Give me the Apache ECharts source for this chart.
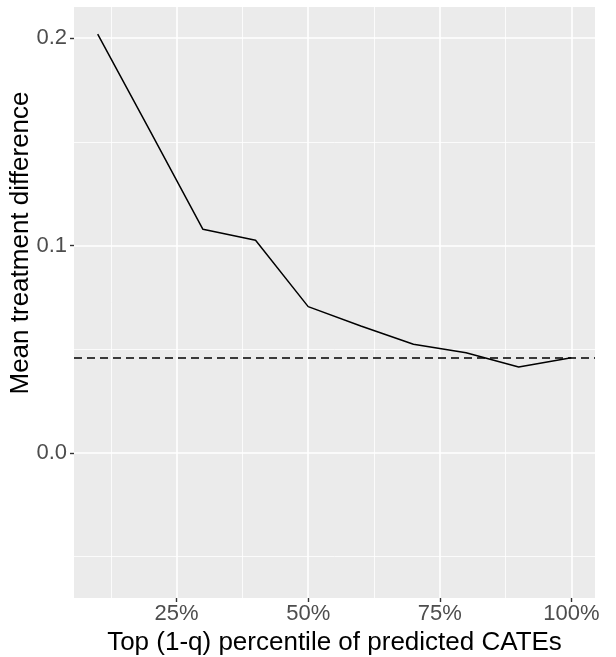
<!DOCTYPE html>
<html>
<head>
<meta charset="utf-8">
<script src="https://cdn.jsdelivr.net/npm/echarts@6/dist/echarts.min.js"></script>
<style>
  html, body { margin: 0; padding: 0; background: #fff; }
  #chart { width: 616px; height: 657px; }
</style>
</head>
<body>
<div id="chart"></div>
<script>
  // Data
  const pct = [10, 20, 30, 40, 50, 60, 70, 80, 90, 100];
  const meanDiff = [0.2019, 0.155, 0.1078, 0.1025, 0.0705, 0.0612, 0.0524, 0.0483, 0.0414, 0.0459];
  const overallDiff = [0.0459];   // dashed reference line

  const xTicks = [25, 50, 75, 100];
  const yTicks = [0, 0.1, 0.2];
  const xMinor = [12.5, 37.5, 62.5, 87.5];
  const yMinor = [-0.05, 0.05, 0.15];

  const FONT = "Liberation Sans, Arial, Helvetica, sans-serif";
  const TICK_COL = "#4D4D4D";

  function gridLines() {
    const major = { color: "#fff", width: 1.6, type: "solid" };
    const minor = { color: "#fff", width: 0.8, type: "solid" };
    const out = [];
    xMinor.forEach(v => out.push({ xAxis: v, lineStyle: minor }));
    yMinor.forEach(v => out.push({ yAxis: v, lineStyle: minor }));
    xTicks.forEach(v => out.push({ xAxis: v, lineStyle: major }));
    yTicks.forEach(v => out.push({ yAxis: v, lineStyle: major }));
    return out;
  }

  const chart = echarts.init(document.getElementById("chart"), null, { renderer: "canvas" });

  chart.setOption({
    animation: false,
    backgroundColor: "#fff",
    grid: {
      left: 74, right: 21, top: 7, bottom: 59,
      containLabel: false,
      outerBoundsMode: "none",
      show: true, backgroundColor: "#EBEBEB", borderWidth: 0
    },
    // y title sits a bit above the panel centre in the reference, so place it by hand
    graphic: [{
      type: "text",
      x: 21,
      y: 243,
      rotation: Math.PI / 2,
      silent: true,
      style: {
        text: "Mean treatment difference",
        fill: "#000",
        font: "26px " + FONT,
        align: "center",
        verticalAlign: "middle"
      }
    }],
    xAxis: {
      type: "value",
      min: 5.5,
      max: 104.5,
      name: "Top (1-q) percentile of predicted CATEs",
      nameLocation: "middle",
      nameGap: 28,
      nameTextStyle: { color: "#000", fontSize: 26, fontFamily: FONT },
      axisLine: { show: false, onZero: false },
      axisTick: { show: true, length: 4, customValues: xTicks, lineStyle: { color: "#333", width: 1.4 } },
      axisLabel: {
        customValues: xTicks, margin: 5,
        color: TICK_COL, fontSize: 22, fontFamily: FONT,
        formatter: v => v + "%"
      },
      splitLine: { show: false }
    },
    yAxis: {
      type: "value",
      min: -0.07,
      max: 0.215,
      axisLine: { show: false, onZero: false },
      axisTick: { show: true, length: 4, customValues: yTicks, lineStyle: { color: "#333", width: 1.4 } },
      axisLabel: {
        customValues: yTicks, margin: 7,
        color: TICK_COL, fontSize: 22, fontFamily: FONT,
        formatter: v => v.toFixed(1)
      },
      splitLine: { show: false }
    },
    series: [
      {
        name: "grid",
        type: "line",
        data: [],
        z: 1,
        silent: true,
        markLine: {
          z: 1,
          precision: 4,
          silent: true, symbol: "none", label: { show: false },
          animation: false,
          data: gridLines()
        }
      },
      {
        name: "overall",
        type: "line",
        data: [],
        z: 2,
        silent: true,
        markLine: {
          z: 2,
          precision: 4,
          silent: true, symbol: "none", label: { show: false },
          animation: false,
          lineStyle: { color: "#000", width: 1.5, type: [8, 5] },
          data: overallDiff.map(v => ({ yAxis: v }))
        }
      },
      {
        name: "mean",
        type: "line",
        z: 3,
        data: pct.map((p, i) => [p, meanDiff[i]]),
        showSymbol: false,
        lineStyle: { color: "#000", width: 1.5 }
      }
    ]
  });
</script>
</body>
</html>
